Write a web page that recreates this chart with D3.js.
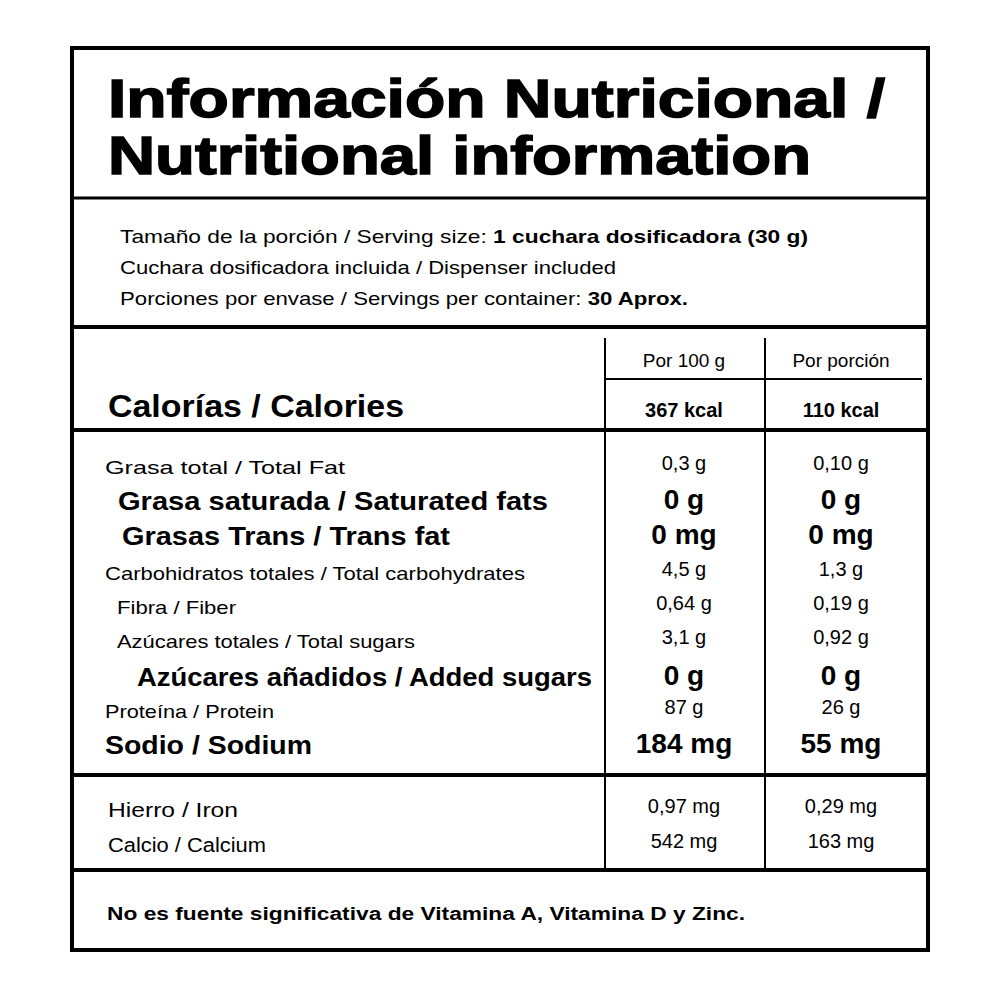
<!DOCTYPE html>
<html><head><meta charset="utf-8">
<script src="https://cdn.jsdelivr.net/npm/d3@7"></script>
<style>body{margin:0;background:#fff}</style>
</head><body>
<svg id="c" width="1000" height="1000"></svg>
<script>
// label data
const titleLines = ["Información Nutricional /", "Nutritional information"];
const servingLines = [
  ["Tamaño de la porción / Serving size: ", "1 cuchara dosificadora (30 g)"],
  ["Cuchara dosificadora incluida / Dispenser included", ""],
  ["Porciones por envase / Servings per container: ", "30 Aprox."]
];
const colHeads = ["Por 100 g", "Por porción"];
const calories = ["367 kcal", "110 kcal"];
const nutrients = ["Grasa total / Total Fat", "Grasa saturada / Saturated fats", "Grasas Trans / Trans fat",
  "Carbohidratos totales / Total carbohydrates", "Fibra / Fiber", "Azúcares totales / Total sugars",
  "Azúcares añadidos / Added sugars", "Proteína / Protein", "Sodio / Sodium"];
const per100 = ["0,3 g", "0 g", "0 mg", "4,5 g", "0,64 g", "3,1 g", "0 g", "87 g", "184 mg"];
const perServing = ["0,10 g", "0 g", "0 mg", "1,3 g", "0,19 g", "0,92 g", "0 g", "26 g", "55 mg"];
const emphasis = [0, 1, 1, 0, 0, 0, 1, 0, 1];
const indent = [0, 13, 17, 0, 12, 12, 32, 0, 0];
const minerals = ["Hierro / Iron", "Calcio / Calcium"];
const min100 = ["0,97 mg", "542 mg"];
const minServ = ["0,29 mg", "163 mg"];
const footer = "No es fuente significativa de Vitamina A, Vitamina D y Zinc.";

const svg = d3.select("#c");
const F = "'Liberation Sans', Arial, sans-serif";
const c1 = 684, c2 = 841;

svg.append("rect").attr("x", 72).attr("y", 48).attr("width", 856).attr("height", 902)
  .attr("fill", "none").attr("stroke", "#000").attr("stroke-width", 4);

const hl = [[198, 72, 928, 3], [327, 72, 928, 4], [379, 605, 922, 2], [430, 72, 928, 4], [775, 72, 928, 4], [870, 72, 928, 4]];
svg.selectAll(".hl").data(hl).join("line")
  .attr("x1", d => d[1]).attr("x2", d => d[2]).attr("y1", d => d[0]).attr("y2", d => d[0])
  .attr("stroke", "#000").attr("stroke-width", d => d[3]);
svg.selectAll(".vl").data([605, 765]).join("line")
  .attr("x1", d => d).attr("x2", d => d).attr("y1", 338).attr("y2", 870)
  .attr("stroke", "#000").attr("stroke-width", 2);

svg.selectAll(".title").data(titleLines).join("text")
  .attr("x", 108).attr("y", 117).attr("dy", (d, i) => i * 57)
  .attr("font-family", F).attr("font-weight", "bold").attr("font-size", 54)
  .attr("textLength", (d, i) => i ? 703 : 777).attr("lengthAdjust", "spacingAndGlyphs")
  .style("stroke", "#000").style("stroke-width", 1.5).text(d => d);

servingLines.forEach((s, i) => {
  const t = svg.append("text").attr("x", 120).attr("y", 243 + i * 31)
    .attr("font-family", F).attr("font-size", 19)
    .attr("textLength", [688, 496, 568][i]).attr("lengthAdjust", "spacingAndGlyphs");
  t.append("tspan").text(s[0]);
  t.append("tspan").attr("font-weight", "bold").text(s[1]);
});

svg.selectAll(".ch").data(colHeads).join("text")
  .attr("x", (d, i) => i ? c2 : c1).attr("y", 367).attr("text-anchor", "middle")
  .attr("font-family", F).attr("font-size", 19).text(d => d);
svg.append("text").attr("x", 108).attr("y", 417).attr("font-family", F).attr("font-weight", "bold")
  .attr("font-size", 32).attr("textLength", 296).attr("lengthAdjust", "spacingAndGlyphs").text("Calorías / Calories");
svg.selectAll(".cal").data(calories).join("text")
  .attr("x", (d, i) => i ? c2 : c1).attr("y", 417).attr("text-anchor", "middle")
  .attr("font-family", F).attr("font-weight", "bold").attr("font-size", 20).text(d => d);

const ys = [467, 501, 536, 573, 607, 641, 677, 711, 745];
const widths = [240, 430, 328, 420, 119, 298, 455, 169, 207];
nutrients.forEach((n, i) => {
  const b = emphasis[i];
  const fs = b ? 26 : 19;
  const g = svg.append("g").attr("font-family", F).attr("font-size", fs).attr("font-weight", b ? "bold" : "normal");
  g.append("text").attr("x", 105 + indent[i]).attr("y", ys[i] + fs * 0.35)
    .attr("textLength", widths[i]).attr("lengthAdjust", "spacingAndGlyphs").text(n);
  const vs = b ? 28 : 20;
  g.append("text").attr("x", c1).attr("y", ys[i] + fs * 0.35 - (b ? 1 : 4)).attr("font-size", vs).attr("text-anchor", "middle").text(per100[i]);
  g.append("text").attr("x", c2).attr("y", ys[i] + fs * 0.35 - (b ? 1 : 4)).attr("font-size", vs).attr("text-anchor", "middle").text(perServing[i]);
});

minerals.forEach((m, i) => {
  const y = 817 + i * 35;
  const g = svg.append("g").attr("font-family", F).attr("font-size", 20);
  g.append("text").attr("x", 108).attr("y", y).attr("textLength", [130, 158][i]).attr("lengthAdjust", "spacingAndGlyphs").text(m);
  g.append("text").attr("x", c1).attr("y", y - 4).attr("text-anchor", "middle").text(min100[i]);
  g.append("text").attr("x", c2).attr("y", y - 4).attr("text-anchor", "middle").text(minServ[i]);
});

svg.append("text").attr("x", 107).attr("y", 920).attr("font-family", F).attr("font-weight", "bold")
  .attr("font-size", 18).attr("textLength", 638).attr("lengthAdjust", "spacingAndGlyphs").text(footer);
</script>
</body></html>
